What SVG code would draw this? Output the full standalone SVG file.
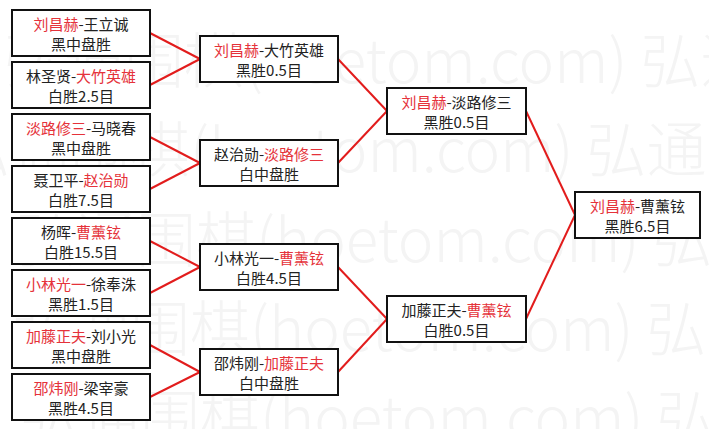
<svg xmlns="http://www.w3.org/2000/svg" width="709" height="429" viewBox="0 0 709 429">
<style>
.bg{fill:#ffffff}
.wm{font-family:"Noto Sans CJK SC","Liberation Sans",sans-serif;font-size:60px;font-weight:300;fill:#f4f4f4}
.box{fill:#ffffff;stroke:#111111;stroke-width:2}
.t{font-family:"Noto Sans CJK SC","Liberation Sans",sans-serif;font-size:15px;fill:#222222;text-anchor:middle}
.r{fill:#e5323a}
.link{stroke:#e21c1c;stroke-width:2;fill:none}
</style>
<rect class="bg" x="0" y="0" width="709" height="429"/>
<g id="watermark">
<text class="wm" x="4" y="83">弘通围棋(hoetom.com) 弘通围棋</text>
<text class="wm" x="-50" y="172">弘通围棋(hoetom.com) 弘通围棋</text>
<text class="wm" x="16" y="262">弘通围棋(hoetom.com) 弘通围棋</text>
<text class="wm" x="10" y="351">弘通围棋(hoetom.com) 弘通围棋</text>
<text class="wm" x="20" y="440">弘通围棋(hoetom.com) 弘通围棋</text>
</g>
<g id="connectors">
<line class="link" x1="150" y1="33" x2="200" y2="59"/>
<line class="link" x1="150" y1="85" x2="200" y2="59"/>
<line class="link" x1="150" y1="137" x2="200" y2="163"/>
<line class="link" x1="150" y1="189" x2="200" y2="163"/>
<line class="link" x1="150" y1="241" x2="200" y2="267"/>
<line class="link" x1="150" y1="293" x2="200" y2="267"/>
<line class="link" x1="150" y1="345" x2="200" y2="372"/>
<line class="link" x1="150" y1="397" x2="200" y2="372"/>
<line class="link" x1="338" y1="59" x2="387" y2="111"/>
<line class="link" x1="338" y1="163" x2="387" y2="111"/>
<line class="link" x1="338" y1="267" x2="387" y2="319"/>
<line class="link" x1="338" y1="372" x2="387" y2="319"/>
<line class="link" x1="526" y1="111" x2="575" y2="215"/>
<line class="link" x1="526" y1="319" x2="575" y2="215"/>
</g>
<g id="r1-1"><rect class="box" x="12" y="10" width="138" height="46"/>
<text class="t" x="81" y="30"><tspan class="r">刘昌赫</tspan>-王立诚</text>
<text class="t" x="81" y="50">黑中盘胜</text></g>
<g id="r1-2"><rect class="box" x="12" y="62" width="138" height="46"/>
<text class="t" x="81" y="82">林圣贤-<tspan class="r">大竹英雄</tspan></text>
<text class="t" x="81" y="102">白胜2.5目</text></g>
<g id="r1-3"><rect class="box" x="12" y="114" width="138" height="46"/>
<text class="t" x="81" y="134"><tspan class="r">淡路修三</tspan>-马晓春</text>
<text class="t" x="81" y="154">黑中盘胜</text></g>
<g id="r1-4"><rect class="box" x="12" y="166" width="138" height="46"/>
<text class="t" x="81" y="186">聂卫平-<tspan class="r">赵治勋</tspan></text>
<text class="t" x="81" y="206">白胜7.5目</text></g>
<g id="r1-5"><rect class="box" x="12" y="218" width="138" height="46"/>
<text class="t" x="81" y="238">杨晖-<tspan class="r">曹薰铉</tspan></text>
<text class="t" x="81" y="258">白胜15.5目</text></g>
<g id="r1-6"><rect class="box" x="12" y="270" width="138" height="46"/>
<text class="t" x="81" y="290"><tspan class="r">小林光一</tspan>-徐奉洙</text>
<text class="t" x="81" y="310">黑胜1.5目</text></g>
<g id="r1-7"><rect class="box" x="12" y="322" width="138" height="46"/>
<text class="t" x="81" y="342"><tspan class="r">加藤正夫</tspan>-刘小光</text>
<text class="t" x="81" y="362">黑中盘胜</text></g>
<g id="r1-8"><rect class="box" x="12" y="374" width="138" height="46"/>
<text class="t" x="81" y="394"><tspan class="r">邵炜刚</tspan>-梁宰豪</text>
<text class="t" x="81" y="414">黑胜4.5目</text></g>
<g id="r2-1"><rect class="box" x="200" y="36" width="138" height="46"/>
<text class="t" x="269" y="56"><tspan class="r">刘昌赫</tspan>-大竹英雄</text>
<text class="t" x="269" y="76">黑胜0.5目</text></g>
<g id="r2-2"><rect class="box" x="200" y="140" width="138" height="46"/>
<text class="t" x="269" y="160">赵治勋-<tspan class="r">淡路修三</tspan></text>
<text class="t" x="269" y="180">白中盘胜</text></g>
<g id="r2-3"><rect class="box" x="200" y="244" width="138" height="46"/>
<text class="t" x="269" y="264">小林光一-<tspan class="r">曹薰铉</tspan></text>
<text class="t" x="269" y="284">白胜4.5目</text></g>
<g id="r2-4"><rect class="box" x="200" y="349" width="138" height="46"/>
<text class="t" x="269" y="369">邵炜刚-<tspan class="r">加藤正夫</tspan></text>
<text class="t" x="269" y="389">白中盘胜</text></g>
<g id="r3-1"><rect class="box" x="387" y="88" width="139" height="46"/>
<text class="t" x="456.5" y="108"><tspan class="r">刘昌赫</tspan>-淡路修三</text>
<text class="t" x="456.5" y="128">黑胜0.5目</text></g>
<g id="r3-2"><rect class="box" x="387" y="296" width="139" height="46"/>
<text class="t" x="456.5" y="316">加藤正夫-<tspan class="r">曹薰铉</tspan></text>
<text class="t" x="456.5" y="336">白胜0.5目</text></g>
<g id="final"><rect class="box" x="575" y="192" width="125" height="46"/>
<text class="t" x="637.5" y="212"><tspan class="r">刘昌赫</tspan>-曹薰铉</text>
<text class="t" x="637.5" y="232">黑胜6.5目</text></g>
</svg>
